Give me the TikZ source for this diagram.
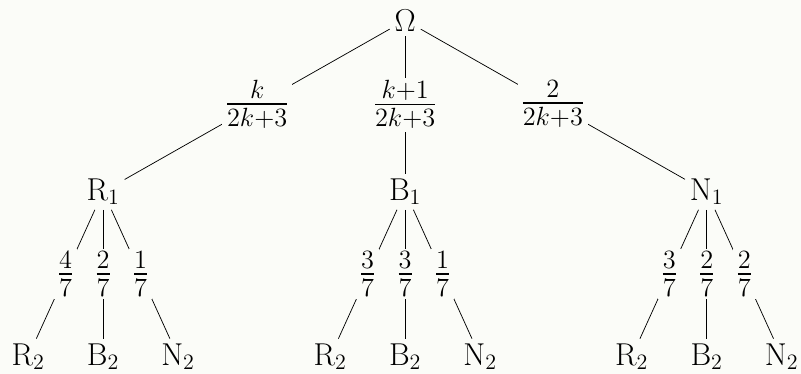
\documentclass[tikz,border=0pt]{standalone}
\usepackage{amsmath}
\usetikzlibrary{positioning}
\definecolor{paper}{RGB}{251,252,248}

\begin{document}
\begin{tikzpicture}[every node/.style={inner sep=2.5pt, font=\LARGE}, prob/.style={fill=paper, inner sep=1.5pt, font=\huge}]
\fill[paper] (0,0) rectangle (15.38,-7.18);
\useasboundingbox (0,0) rectangle (15.38,-7.18);
\node (om) at (7.78,-0.39) {$\Omega$};
\node (r1) at (1.98,-3.68) {R$_1$};
\node (b1) at (7.78,-3.68) {B$_1$};
\node (n1) at (13.57,-3.68) {N$_1$};
% leaves under R1
\node (r1r) at (0.54,-6.85) {R$_2$};
\node (r1b) at (1.98,-6.85) {B$_2$};
\node (r1n) at (3.42,-6.85) {N$_2$};
% leaves under B1
\node (b1r) at (6.34,-6.85) {R$_2$};
\node (b1b) at (7.78,-6.85) {B$_2$};
\node (b1n) at (9.22,-6.85) {N$_2$};
% leaves under N1
\node (n1r) at (12.13,-6.85) {R$_2$};
\node (n1b) at (13.57,-6.85) {B$_2$};
\node (n1n) at (15.01,-6.85) {N$_2$};
\path
     (om) edge node[prob] {$\frac{k}{2k+3}$} (r1)
     (om) edge node[prob] {$\frac{k+1}{2k+3}$} (b1)
     (om) edge node[prob] {$\frac{2}{2k+3}$} (n1)
     (r1) edge node[prob] {$\frac{4}{7}$} (r1r)
     (r1) edge node[prob] {$\frac{2}{7}$} (r1b)
     (r1) edge node[prob] {$\frac{1}{7}$} (r1n)
     (b1) edge node[prob] {$\frac{3}{7}$} (b1r)
     (b1) edge node[prob] {$\frac{3}{7}$} (b1b)
     (b1) edge node[prob] {$\frac{1}{7}$} (b1n)
     (n1) edge node[prob] {$\frac{3}{7}$} (n1r)
     (n1) edge node[prob] {$\frac{2}{7}$} (n1b)
     (n1) edge node[prob] {$\frac{2}{7}$} (n1n);
\end{tikzpicture}
\end{document}
